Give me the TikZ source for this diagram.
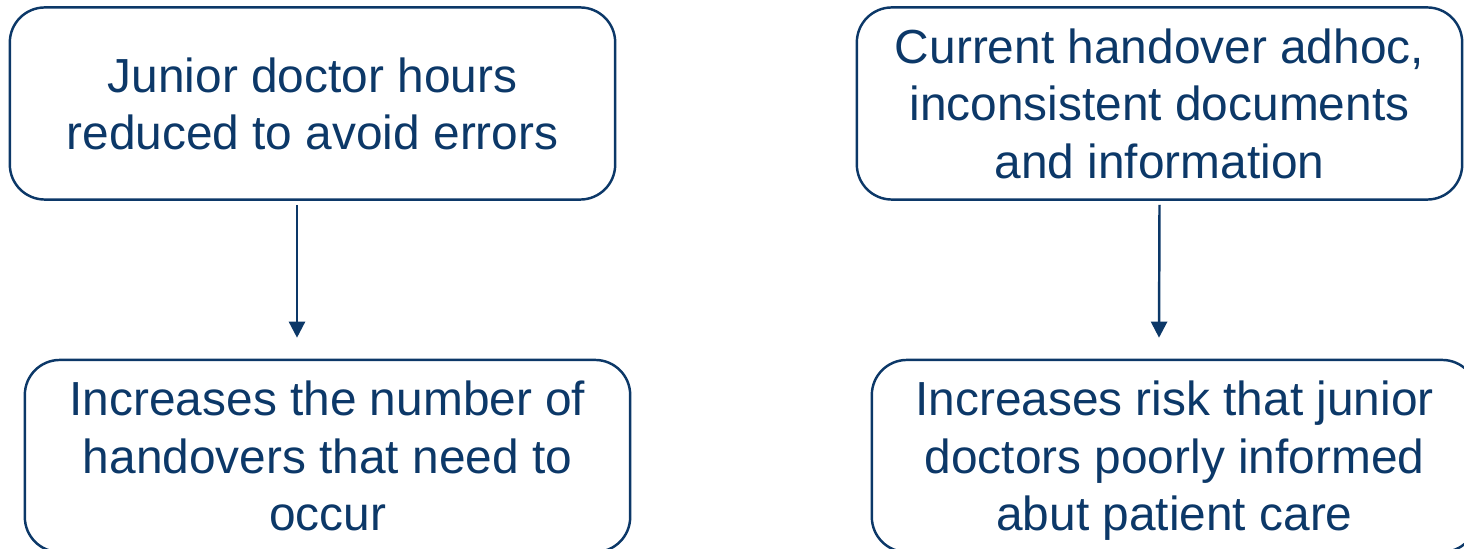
\documentclass[tikz,border=0pt]{standalone}
\usepackage{fontspec}
\setmainfont{Liberation Sans}
\usepackage{xcolor}
\usetikzlibrary{arrows.meta,calc,positioning}
\definecolor{navy}{RGB}{12,56,104}
\tikzset{
	box/.style={draw=navy, line width=0.7pt, rounded corners=0.35cm,
		minimum width=6.05cm, minimum height=1.92cm, inner sep=0pt,
		align=center, text=navy, text depth=-1.7pt,
		font=\fontsize{13.6}{16.35}\selectfont},
	arr/.style={draw=navy, line width=0.7pt, -{Triangle[width=4.6pt,length=4.6pt]}}
}

\begin{document}
\begin{tikzpicture}[x=0.01cm, y=-0.01cm]

	\useasboundingbox (0,0) rectangle (1464,549);

	% causes
	\node[box] (hours) at (312.5,103.5) {Junior doctor hours\\reduced to avoid errors};
	\node[box] (adhoc) at (1159.5,103.5) {Current handover adhoc,\\inconsistent documents\\and information};

	% effects
	\node[box] (number) at (327.5,456) {Increases the number of\\handovers that need to\\occur};
	\node[box] (risk) at (1174.5,456) {Increases risk that junior\\doctors poorly informed\\abut patient care};

	\draw[arr] ($(hours.south)+(-15.5,4)$) -- ($(number.north)+(-30.5,-21)$);
	\draw[arr] ($(adhoc.south)+(0,4)$) -- ($(risk.north)+(-15.5,-21)$);

\end{tikzpicture}
\end{document}
